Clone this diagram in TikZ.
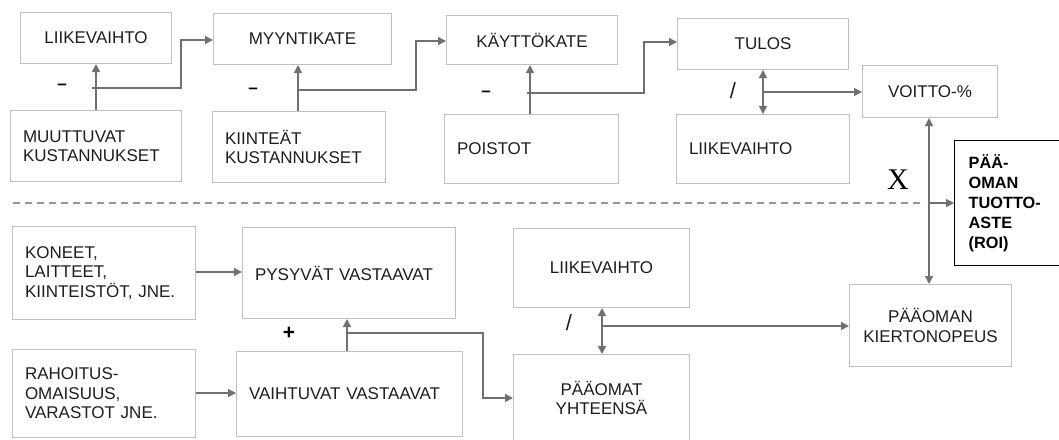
\documentclass[tikz,border=0pt]{standalone}
\usepackage{fontspec}
\setmainfont{Liberation Sans}
\newfontfamily\serifx{Liberation Serif}
\usetikzlibrary{arrows.meta}
\definecolor{boxc}{RGB}{192,192,192}
\definecolor{arrc}{RGB}{112,112,112}
\definecolor{dashc}{RGB}{150,150,150}
\definecolor{txtc}{RGB}{30,30,30}
\begin{document}
\begin{tikzpicture}[x=1pt,y=-1pt,
  boxbase/.style={draw=boxc, line width=1pt, anchor=north west, inner sep=0pt,
    font=\fontsize{17}{19.5}\selectfont, text=txtc},
  boxc/.style={boxbase, align=center},
  boxl/.style={boxbase, align=left, inner xsep=12.5pt},
  arr/.style={draw=arrc, line width=1.4pt, -{Triangle[length=8pt,width=8pt]}},
  darr/.style={draw=arrc, line width=1.4pt, {Triangle[length=8pt,width=8pt]}-{Triangle[length=8pt,width=8pt]}},
  sym/.style={font=\fontsize{17}{19.5}\selectfont, text=black, inner sep=0pt}
]
\useasboundingbox (0,0) rectangle (1059,439);

% top row
\node[boxc, minimum width=151pt, minimum height=51pt] (lv1) at (20,12) {LIIKEVAIHTO};
\node[boxc, minimum width=178pt, minimum height=51pt] (my) at (213,13) {MYYNTIKATE};
\node[boxc, minimum width=171pt, minimum height=49pt] (kay) at (446,15) {KÄYTTÖKATE};
\node[boxc, minimum width=171pt, minimum height=51pt] (tul) at (677,18) {TULOS};
\node[boxc, minimum width=135pt, minimum height=52pt] (voi) at (862,65) {VOITTO-\%};

\node[boxl, minimum width=171pt, text width=146pt, minimum height=71pt] (mut) at (10,110) {MUUTTUVAT\\KUSTANNUKSET};
\node[boxl, minimum width=173pt, text width=148pt, minimum height=71pt] (kiin) at (212,111) {KIINTEÄT\\KUSTANNUKSET};
\node[boxl, minimum width=174pt, text width=149pt, minimum height=69pt] (poi) at (444,114) {POISTOT};
\node[boxl, minimum width=173pt, text width=148pt, minimum height=69pt] (lv2) at (676,114) {LIIKEVAIHTO};

% ROI
\node[draw=black, line width=1.3pt, anchor=north west, minimum width=125pt, minimum height=125pt,
  align=left, inner xsep=14pt, text width=97pt, font=\bfseries\fontsize{16.3}{20}\selectfont]
  (roi) at (954,140) {PÄÄ-\\OMAN\\TUOTTO-\\ASTE\\(ROI)};

% bottom row
\node[boxl, minimum width=183pt, text width=158pt, minimum height=93pt] (kon) at (12,226) {KONEET,\\LAITTEET,\\KIINTEISTÖT, JNE.};
\node[boxl, minimum width=213pt, text width=188pt, minimum height=91pt] (pys) at (242,227) {PYSYVÄT VASTAAVAT};
\node[boxl, minimum width=183pt, text width=158pt, minimum height=88pt] (rah) at (12,349) {RAHOITUS-\\OMAISUUS,\\VARASTOT JNE.};
\node[boxl, minimum width=226pt, text width=201pt, minimum height=85pt] (vai) at (236,351) {VAIHTUVAT VASTAAVAT};
\node[boxc, minimum width=176pt, minimum height=79pt] (lv3) at (513,228) {LIIKEVAIHTO};
\node[boxc, minimum width=176pt, minimum height=87pt] (pya) at (513,354) {PÄÄOMAT\\YHTEENSÄ};
\node[boxc, minimum width=162pt, minimum height=82pt] (pko) at (849,284) {PÄÄOMAN\\KIERTONOPEUS};

% operator symbols
\node[sym, font=\bfseries\fontsize{17}{19.5}\selectfont] (m1) at (62,87) {–};
\node[sym, font=\bfseries\fontsize{17}{19.5}\selectfont] (m2) at (253,91) {–};
\node[sym, font=\bfseries\fontsize{17}{19.5}\selectfont] (m3) at (486,94) {–};
\node[sym, text=txtc, font=\fontsize{22}{24}\selectfont] (d1) at (733,91) {/};
\node[sym, text=txtc, font=\fontsize{22}{24}\selectfont] (d2) at (569,323) {/};
\node[sym, font=\bfseries\fontsize{21}{22}\selectfont] (p1) at (289,333) {+};
\node[sym, font=\serifx\fontsize{30}{30}\selectfont] (x1) at (898,180) {X};

% junction coordinates
\coordinate (j1) at (92,88);   \coordinate (k1) at (181,40);
\coordinate (j2) at (297,90);  \coordinate (k2) at (416,41);
\coordinate (j3) at (527,93);  \coordinate (k3) at (644,42);
\coordinate (j4) at (763,92);
\coordinate (j5) at (929,203); \coordinate (dl) at (13,203);
\coordinate (j6) at (347,333); \coordinate (k6) at (483,398);
\coordinate (j7) at (602,326);

% top connectors
\draw[arr] (mut.north -| 96,0) -- (lv1.south -| 96,0);
\draw[arr] (j1) -| (k1) -- (k1 -| my.west);
\draw[arr] (kiin.north -| 298,0) -- (my.south -| 298,0);
\draw[arr] (j2) -| (k2) -- (k2 -| kay.west);
\draw[arr] (poi.north -| 530,0) -- (kay.south -| 530,0);
\draw[arr] (j3) -| (k3) -- (k3 -| tul.west);
\draw[darr] (tul.south -| j4) -- (lv2.north -| j4);
\draw[arr] (j4) -- (j4 -| voi.west);

% middle
\draw[darr] (voi.south -| j5) -- (pko.north -| j5);
\draw[draw=dashc, line width=1.2pt, dash pattern=on 7pt off 5pt] (dl) -- (925,203);
\draw[arr] (j5) -- (j5 -| roi.west);

% bottom connectors
\draw[arr] (kon.east |- 0,272) -- (pys.west |- 0,272);
\draw[arr] (rah.east |- 0,393) -- (vai.west |- 0,393);
\draw[arr] (vai.north -| j6) -- (pys.south -| j6);
\draw[arr] (j6) -| (k6) -- (k6 -| pya.west);
\draw[darr] (lv3.south -| j7) -- (pya.north -| j7);
\draw[arr] (j7) -- (j7 -| pko.west);
\end{tikzpicture}
\end{document}
